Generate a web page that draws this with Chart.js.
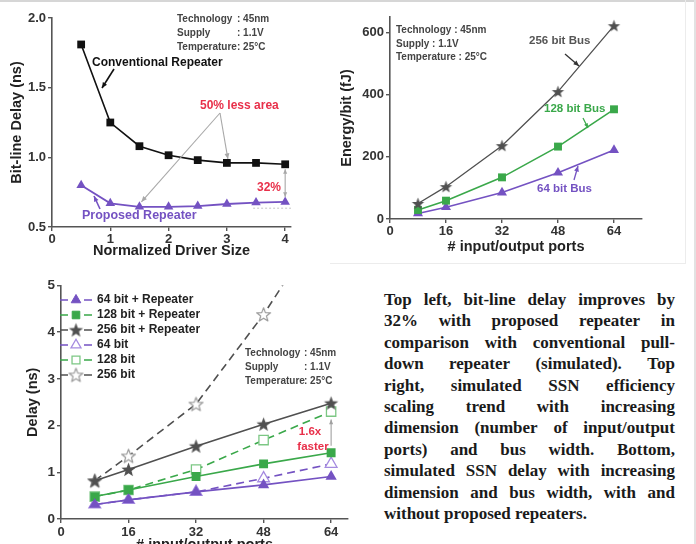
<!DOCTYPE html>
<html><head><meta charset="utf-8">
<script src="https://cdn.jsdelivr.net/npm/chart.js@4.4.0/dist/chart.umd.min.js"></script>
<style>
html,body{margin:0;padding:0;background:#fff;}
#page{position:relative;width:696px;height:544px;overflow:hidden;background:#fff;}
#page canvas{position:absolute;}
#c1{left:0;top:0;}
#c2{left:330px;top:0;}
#c3{left:0;top:270px;}
#txt{position:absolute;left:384px;top:289px;width:291px;font-family:"Liberation Serif","Times New Roman",serif;font-weight:bold;font-size:17px;line-height:21.4px;color:#1a1a1a;}
.ln{display:flex;justify-content:space-between;white-space:nowrap;height:21.4px;}
.frame{position:absolute;background:#d6d6d6;}
</style>
</head><body>
<div id="page">
<div class="frame" style="left:0;top:0;width:696px;height:2px;"></div>
<div class="frame" style="left:694px;top:0;width:2px;height:544px;background:#e2e2e2"></div>
<div class="frame" style="left:330px;top:263px;width:356px;height:1px;background:#ececec"></div>
<div class="frame" style="left:685px;top:0;width:1px;height:263px;background:#ececec"></div>
<canvas id="c1" width="330" height="260"></canvas>
<canvas id="c2" width="366" height="260"></canvas>
<canvas id="c3" width="365" height="284"></canvas>
<div id="txt"></div>
</div>
<script>
// ---------- DATA ----------
const driverSize = [0.5, 1, 1.5, 2, 2.5, 3, 3.5, 4];
const conventionalDelay = [1.81, 1.25, 1.08, 1.015, 0.98, 0.96, 0.96, 0.95];
const proposedDelay = [0.80, 0.67, 0.645, 0.645, 0.65, 0.665, 0.675, 0.68];
const driverTicks = [0, 1, 2, 3, 4];
const bitDelayTicks = [0.5, 1.0, 1.5, 2.0];

const ports = [8, 16, 32, 48, 64];
const portTicks = [0, 16, 32, 48, 64];
const energy256 = [50, 104, 236, 410, 622];
const energy128 = [29, 59, 134, 233, 353];
const energy64 = [18, 38, 85, 149, 222];
const energyTicks = [0, 200, 400, 600];

const delay64Rep = [0.31, 0.41, 0.58, 0.73, 0.91];
const delay128Rep = [0.48, 0.62, 0.91, 1.18, 1.42];
const delay256Rep = [0.82, 1.06, 1.56, 2.03, 2.48];
const delay64 = [0.31, 0.41, 0.58, 0.87, 1.18];
const delay128 = [0.48, 0.62, 1.06, 1.69, 2.30];
const delay256 = [0.82, 1.35, 2.46, 4.38, 6.6];
const delayTicks = [0, 1, 2, 3, 4, 5];

const captionLines = [
  "Top left, bit-line delay improves by",
  "32% with proposed repeater in",
  "comparison with conventional pull-",
  "down repeater (simulated). Top",
  "right, simulated SSN efficiency",
  "scaling trend with increasing",
  "dimension (number of input/output",
  "ports) and bus width. Bottom,",
  "simulated SSN delay with increasing",
  "dimension and bus width, with and"
];
const captionLast = "without proposed repeaters.";

// ---------- STYLE ----------
const PURPLE = '#7452c2', GREEN = '#3aa84a', GRAY = '#505050', BLACK = '#111', RED = '#e8304a';
const FONT = '"Liberation Sans", Arial, sans-serif';

function pts(xs, ys){ return xs.map((x,i)=>({x:x, y:ys[i]})); }
function makeStar(size, fill, stroke, lw){
  const c=document.createElement('canvas'); c.width=c.height=size;
  const g=c.getContext('2d'); const cx=size/2, cy=size/2+0.6, R=size/2-lw, r=R*0.42;
  g.beginPath();
  for(let i=0;i<10;i++){ const a=-Math.PI/2+i*Math.PI/5; const rad=i%2?r:R; g.lineTo(cx+rad*Math.cos(a), cy+rad*Math.sin(a)); }
  g.closePath();
  if(fill){g.fillStyle=fill; g.fill();}
  if(stroke){g.strokeStyle=stroke; g.lineWidth=lw; g.lineJoin='round'; g.stroke();}
  return c;
}
function axis(opts){
  return {
    type:'linear', min:opts.min, max:opts.max,
    afterBuildTicks:(s)=>{ s.ticks = opts.ticks.map(v=>({value:v})); },
    afterFit:(s)=>{ if(opts.width!==undefined) s.width=opts.width; if(opts.height!==undefined) s.height=opts.height; },
    border:{display:true,color:'#555',width:1.6},
    grid:{display:true,drawOnChartArea:false,drawTicks:true,tickLength:4,color:'#555',lineWidth:1.4},
    ticks:{color:'#333',font:{family:FONT,weight:'bold',size:opts.tsize||13},padding:opts.tpad||2,
      callback:opts.cb||((v)=>String(v)), maxRotation:0, autoSkip:false},
    title:{display:true,text:opts.title,color:'#222',font:{family:FONT,weight:'bold',size:opts.titleSize||14.5},padding:opts.titlePad}
  };
}
function arrow(ctx,x1,y1,x2,y2,color,lw,head,both){
  ctx.save(); ctx.strokeStyle=color; ctx.fillStyle=color; ctx.lineWidth=lw;
  ctx.beginPath(); ctx.moveTo(x1,y1); ctx.lineTo(x2,y2); ctx.stroke();
  const tip=(xa,ya,xb,yb)=>{ const a=Math.atan2(yb-ya,xb-xa);
    ctx.beginPath(); ctx.moveTo(xb,yb);
    ctx.lineTo(xb-head*Math.cos(a-0.42), yb-head*Math.sin(a-0.42));
    ctx.lineTo(xb-head*Math.cos(a+0.42), yb-head*Math.sin(a+0.42));
    ctx.closePath(); ctx.fill(); };
  tip(x1,y1,x2,y2); if(both) tip(x2,y2,x1,y1);
  ctx.restore();
}
function text(ctx,str,x,y,color,size,align){
  ctx.save(); ctx.fillStyle=color; ctx.font='bold '+size+'px '+FONT;
  ctx.textAlign=align||'left'; ctx.textBaseline='middle'; ctx.fillText(str,x,y); ctx.restore();
}
const baseOpts = {responsive:false, animation:false, devicePixelRatio:1,
  plugins:{legend:{display:false}, tooltip:{enabled:false}}};

// ---------- CHART 1 ----------
new Chart(document.getElementById('c1'), {
  type:'line',
  data:{datasets:[
    {data:pts(driverSize,conventionalDelay), borderColor:BLACK, borderWidth:1.6, pointStyle:'rect', pointRadius:5.5,
     pointBackgroundColor:BLACK, pointBorderColor:BLACK, pointBorderWidth:0, tension:0},
    {data:pts(driverSize,proposedDelay), borderColor:PURPLE, borderWidth:1.8, pointStyle:'triangle', pointRadius:5.5,
     pointBackgroundColor:PURPLE, pointBorderColor:PURPLE, pointBorderWidth:0, tension:0}
  ]},
  options:Object.assign({}, baseOpts, {
    layout:{padding:{left:0,top:18,right:39,bottom:0}},
    scales:{
      x:axis({min:0,max:4.1,ticks:driverTicks,height:33,title:'Normalized Driver Size',titlePad:{top:0,bottom:0.6},tpad:1}),
      y:axis({min:0.5,max:2.0,ticks:bitDelayTicks,width:52,title:'Bit-line Delay (ns)',titlePad:{top:8.6,bottom:0},cb:(v)=>v.toFixed(1)})
    }
  }),
  plugins:[{id:'ann1', afterDraw(chart){
    const ctx=chart.ctx, xs=chart.scales.x, ys=chart.scales.y;
    text(ctx,'Technology',177,19,'#444',10); text(ctx,': 45nm',237,19,'#444',10);
    text(ctx,'Supply',177,33,'#444',10); text(ctx,': 1.1V',237,33,'#444',10);
    text(ctx,'Temperature',177,47,'#444',10); text(ctx,': 25°C',237,47,'#444',10);
    text(ctx,'Conventional Repeater',92,63,BLACK,12);
    arrow(ctx,114,69,102,88,BLACK,1.6,6);
    text(ctx,'50% less area',200,106,RED,12);
    const px1=xs.getPixelForValue(1.5), py1=ys.getPixelForValue(proposedDelay[2]);
    const px2=xs.getPixelForValue(3), py2=ys.getPixelForValue(conventionalDelay[5]);
    arrow(ctx,220,113,px1+2,py1-5,'#a8a8a8',1.1,6);
    arrow(ctx,220,113,px2+1,py2-4,'#a8a8a8',1.1,6);
    text(ctx,'32%',257,188,RED,12);
    const px4=xs.getPixelForValue(4);
    arrow(ctx,px4,ys.getPixelForValue(proposedDelay[7])-5,px4,ys.getPixelForValue(conventionalDelay[7])+5,'#a8a8a8',1.1,5,true);
    ctx.save(); ctx.strokeStyle='#c4c4c4'; ctx.setLineDash([2,2]); ctx.lineWidth=1;
    ctx.beginPath(); ctx.moveTo(xs.getPixelForValue(3.45),ys.getPixelForValue(0.635)); ctx.lineTo(xs.getPixelForValue(4.1),ys.getPixelForValue(0.635)); ctx.stroke(); ctx.restore();
    text(ctx,'Proposed Repeater',82,216,PURPLE,12.5);
    arrow(ctx,100,209,94,196,PURPLE,1.6,6);
  }}]
});

// ---------- CHART 2 ----------
const star2 = makeStar(15, GRAY, null, 1);
new Chart(document.getElementById('c2'), {
  type:'line',
  data:{datasets:[
    {data:pts(ports,energy256), borderColor:GRAY, borderWidth:1.3, pointStyle:star2, tension:0},
    {data:pts(ports,energy128), borderColor:GREEN, borderWidth:1.6, pointStyle:'rect', pointRadius:5.6,
     pointBackgroundColor:GREEN, pointBorderColor:GREEN, pointBorderWidth:0, tension:0},
    {data:pts(ports,energy64), borderColor:PURPLE, borderWidth:1.6, pointStyle:'triangle', pointRadius:5.8,
     pointBackgroundColor:PURPLE, pointBorderColor:PURPLE, pointBorderWidth:0, tension:0}
  ]},
  options:Object.assign({}, baseOpts, {
    layout:{padding:{left:0,top:17,right:54,bottom:0}},
    scales:{
      x:axis({min:0,max:72,ticks:portTicks,height:41,title:'# input/output ports',titlePad:{top:0,bottom:4.6},tpad:0.5}),
      y:axis({min:0,max:650,ticks:energyTicks,width:60,title:'Energy/bit (fJ)',titlePad:{top:8.6,bottom:0}})
    }
  }),
  plugins:[{id:'ann2', afterDraw(chart){
    const ctx=chart.ctx, o=330;
    text(ctx,'Technology : 45nm',396-o,30,'#444',10);
    text(ctx,'Supply : 1.1V',396-o,44,'#444',10);
    text(ctx,'Temperature : 25°C',396-o,57,'#444',10);
    text(ctx,'256 bit Bus',529-o,41,'#555',11.5);
    arrow(ctx,565-o,54,579-o,66,'#333',1.3,6);
    text(ctx,'128 bit Bus',544-o,109,GREEN,11.5);
    arrow(ctx,583-o,118,588-o,128,GREEN,1.3,5);
    text(ctx,'64 bit Bus',537-o,189,PURPLE,11.5);
    arrow(ctx,574-o,180,578-o,166,PURPLE,1.3,6);
  }}]
});

// ---------- CHART 3 ----------
const starFill = makeStar(17, GRAY, null, 1);
const starOpen = makeStar(17, '#fff', '#9a9a9a', 1.2);
const ds3 = [
  {label:'64 bit + Repeater', data:pts(ports,delay64Rep), borderColor:PURPLE, borderDash:[], pointStyle:'triangle', pointRadius:6.5, pointBackgroundColor:PURPLE, pointBorderColor:PURPLE, pointBorderWidth:0},
  {label:'128 bit + Repeater', data:pts(ports,delay128Rep), borderColor:GREEN, borderDash:[], pointStyle:'rect', pointRadius:6.3, pointBackgroundColor:GREEN, pointBorderColor:GREEN, pointBorderWidth:0},
  {label:'256 bit + Repeater', data:pts(ports,delay256Rep), borderColor:GRAY, borderDash:[], pointStyle:starFill},
  {label:'64 bit', data:pts(ports,delay64), borderColor:PURPLE, borderDash:[8,5], pointStyle:'triangle', pointRadius:6.8, pointBackgroundColor:'#fff', pointBorderColor:'#a58be0', pointBorderWidth:1.3},
  {label:'128 bit', data:pts(ports,delay128), borderColor:GREEN, borderDash:[8,5], pointStyle:'rect', pointRadius:6.6, pointBackgroundColor:'#fff', pointBorderColor:'#7cc784', pointBorderWidth:1.3},
  {label:'256 bit', data:pts(ports,delay256), borderColor:GRAY, borderDash:[8,5], pointStyle:starOpen}
].map(d=>Object.assign({borderWidth:1.6, tension:0}, d));

function legendMarker(ctx, ds, x, y){
  ctx.save();
  if(ds.pointStyle instanceof HTMLCanvasElement){
    ctx.drawImage(ds.pointStyle, x-ds.pointStyle.width/2, y-ds.pointStyle.height/2); ctx.restore(); return;
  }
  const r=ds.pointRadius*0.85;
  ctx.fillStyle=ds.pointBackgroundColor; ctx.strokeStyle=ds.pointBorderColor; ctx.lineWidth=ds.pointBorderWidth||0;
  ctx.beginPath();
  if(ds.pointStyle==='triangle'){
    ctx.moveTo(x, y-r); ctx.lineTo(x+r*0.866, y+r*0.5); ctx.lineTo(x-r*0.866, y+r*0.5); ctx.closePath();
  } else { const s=r*Math.SQRT1_2; ctx.rect(x-s,y-s,2*s,2*s); }
  ctx.fill(); if(ctx.lineWidth>0) ctx.stroke();
  ctx.restore();
}
new Chart(document.getElementById('c3'), {
  type:'line',
  data:{datasets:ds3},
  options:Object.assign({}, baseOpts, {
    layout:{padding:{left:0,top:15.5,right:17,bottom:0}},
    scales:{
      x:axis({min:0,max:68,ticks:portTicks,height:35,title:'# input/output ports',titlePad:{top:0,bottom:0},tpad:1.5}),
      y:axis({min:0,max:5,ticks:delayTicks,width:61,title:'Delay (ns)',titlePad:{top:24.6,bottom:0},tsize:13.5})
    }
  }),
  plugins:[{id:'ann3', afterDraw(chart){
    const ctx=chart.ctx, o=270, xs=chart.scales.x, ys=chart.scales.y;
    chart.data.datasets.forEach((ds,i)=>{
      const y=30+i*15;
      ctx.save(); ctx.strokeStyle=ds.borderColor; ctx.lineWidth=1.6;
      ctx.beginPath(); ctx.moveTo(60,y); ctx.lineTo(68,y); ctx.moveTo(84,y); ctx.lineTo(92,y); ctx.stroke(); ctx.restore();
      legendMarker(ctx, ds, 76, y);
      text(ctx, ds.label, 97, y, '#222', 12);
    });
    text(ctx,'Technology',245,353-o,'#444',10); text(ctx,': 45nm',304,353-o,'#444',10);
    text(ctx,'Supply',245,367-o,'#444',10); text(ctx,': 1.1V',304,367-o,'#444',10);
    text(ctx,'Temperature',245,381-o,'#444',10); text(ctx,': 25°C',304,381-o,'#444',10);
    text(ctx,'1.6x',310,432-o,RED,11.5,'center');
    text(ctx,'faster',313,447-o,RED,11.5,'center');
    const px=xs.getPixelForValue(64);
    arrow(ctx,px,ys.getPixelForValue(delay128Rep[4])-7,px,ys.getPixelForValue(delay128[4])+8,'#a0a0a0',1.1,5);
  }}]
});

// ---------- CAPTION ----------
const txt=document.getElementById('txt');
captionLines.forEach(line=>{
  const d=document.createElement('div'); d.className='ln';
  line.split(' ').forEach(w=>{ const s=document.createElement('span'); s.textContent=w; d.appendChild(s); });
  txt.appendChild(d);
});
const last=document.createElement('div'); last.textContent=captionLast; txt.appendChild(last);
</script>
</body></html>
